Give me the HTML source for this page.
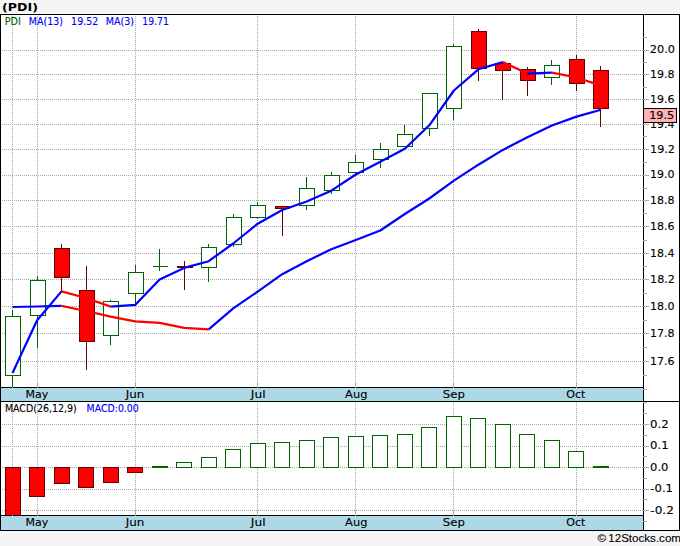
<!DOCTYPE html>
<html lang="en">
<head>
<meta charset="utf-8">
<title>(PDI) chart</title>
<style>
html,body{margin:0;padding:0;background:#f5f5f5;}
body{width:680px;height:546px;overflow:hidden;font-family:"Liberation Sans", "DejaVu Sans", sans-serif;}
svg{display:block;}
text{white-space:pre;}
</style>
</head>
<body>
<svg width="680" height="546" viewBox="0 0 680 546">
<rect x="0" y="0" width="680" height="546" fill="#f5f5f5"/>
<rect x="0" y="13" width="680" height="518" fill="#ffffff"/>
<rect x="1" y="388" width="642" height="13" fill="#add8e6"/>
<rect x="1" y="516" width="642" height="14" fill="#add8e6"/>
<g shape-rendering="crispEdges">
<line x1="2" y1="50.5" x2="643" y2="50.5" stroke="#a8a8a8" stroke-width="1" stroke-dasharray="1 1"/>
<line x1="2" y1="74.5" x2="643" y2="74.5" stroke="#a8a8a8" stroke-width="1" stroke-dasharray="1 1"/>
<line x1="2" y1="99.5" x2="643" y2="99.5" stroke="#a8a8a8" stroke-width="1" stroke-dasharray="1 1"/>
<line x1="2" y1="124.5" x2="643" y2="124.5" stroke="#a8a8a8" stroke-width="1" stroke-dasharray="1 1"/>
<line x1="2" y1="149.5" x2="643" y2="149.5" stroke="#a8a8a8" stroke-width="1" stroke-dasharray="1 1"/>
<line x1="2" y1="175.5" x2="643" y2="175.5" stroke="#a8a8a8" stroke-width="1" stroke-dasharray="1 1"/>
<line x1="2" y1="200.5" x2="643" y2="200.5" stroke="#a8a8a8" stroke-width="1" stroke-dasharray="1 1"/>
<line x1="2" y1="226.5" x2="643" y2="226.5" stroke="#a8a8a8" stroke-width="1" stroke-dasharray="1 1"/>
<line x1="2" y1="253.5" x2="643" y2="253.5" stroke="#a8a8a8" stroke-width="1" stroke-dasharray="1 1"/>
<line x1="2" y1="279.5" x2="643" y2="279.5" stroke="#a8a8a8" stroke-width="1" stroke-dasharray="1 1"/>
<line x1="2" y1="306.5" x2="643" y2="306.5" stroke="#a8a8a8" stroke-width="1" stroke-dasharray="1 1"/>
<line x1="2" y1="333.5" x2="643" y2="333.5" stroke="#a8a8a8" stroke-width="1" stroke-dasharray="1 1"/>
<line x1="2" y1="361.5" x2="643" y2="361.5" stroke="#a8a8a8" stroke-width="1" stroke-dasharray="1 1"/>
<line x1="2" y1="424.5" x2="643" y2="424.5" stroke="#a8a8a8" stroke-width="1" stroke-dasharray="1 1"/>
<line x1="2" y1="446.5" x2="643" y2="446.5" stroke="#a8a8a8" stroke-width="1" stroke-dasharray="1 1"/>
<line x1="2" y1="467.5" x2="643" y2="467.5" stroke="#a8a8a8" stroke-width="1" stroke-dasharray="1 1"/>
<line x1="2" y1="489.5" x2="643" y2="489.5" stroke="#a8a8a8" stroke-width="1" stroke-dasharray="1 1"/>
<line x1="2" y1="510.5" x2="643" y2="510.5" stroke="#a8a8a8" stroke-width="1" stroke-dasharray="1 1"/>
<line x1="12.5" y1="16" x2="12.5" y2="387" stroke="#a8a8a8" stroke-width="1" stroke-dasharray="1 1"/>
<line x1="12.5" y1="402" x2="12.5" y2="515" stroke="#a8a8a8" stroke-width="1" stroke-dasharray="1 1"/>
<line x1="37.5" y1="16" x2="37.5" y2="387" stroke="#a8a8a8" stroke-width="1" stroke-dasharray="1 1"/>
<line x1="37.5" y1="402" x2="37.5" y2="515" stroke="#a8a8a8" stroke-width="1" stroke-dasharray="1 1"/>
<line x1="135.5" y1="16" x2="135.5" y2="387" stroke="#a8a8a8" stroke-width="1" stroke-dasharray="1 1"/>
<line x1="135.5" y1="402" x2="135.5" y2="515" stroke="#a8a8a8" stroke-width="1" stroke-dasharray="1 1"/>
<line x1="257.5" y1="16" x2="257.5" y2="387" stroke="#a8a8a8" stroke-width="1" stroke-dasharray="1 1"/>
<line x1="257.5" y1="402" x2="257.5" y2="515" stroke="#a8a8a8" stroke-width="1" stroke-dasharray="1 1"/>
<line x1="355.5" y1="16" x2="355.5" y2="387" stroke="#a8a8a8" stroke-width="1" stroke-dasharray="1 1"/>
<line x1="355.5" y1="402" x2="355.5" y2="515" stroke="#a8a8a8" stroke-width="1" stroke-dasharray="1 1"/>
<line x1="453.5" y1="16" x2="453.5" y2="387" stroke="#a8a8a8" stroke-width="1" stroke-dasharray="1 1"/>
<line x1="453.5" y1="402" x2="453.5" y2="515" stroke="#a8a8a8" stroke-width="1" stroke-dasharray="1 1"/>
<line x1="576.5" y1="16" x2="576.5" y2="387" stroke="#a8a8a8" stroke-width="1" stroke-dasharray="1 1"/>
<line x1="576.5" y1="402" x2="576.5" y2="515" stroke="#a8a8a8" stroke-width="1" stroke-dasharray="1 1"/>
</g>
<g shape-rendering="crispEdges">
<rect x="12" y="310" width="1" height="77" fill="#006400"/>
<rect x="5" y="316" width="16" height="60" fill="#006400"/>
<rect x="6" y="317" width="14" height="58" fill="#ffffff"/>
<rect x="37" y="276" width="1" height="72" fill="#006400"/>
<rect x="30" y="280" width="16" height="36" fill="#006400"/>
<rect x="31" y="281" width="14" height="34" fill="#ffffff"/>
<rect x="61" y="244" width="1" height="48" fill="#660000"/>
<rect x="54" y="248" width="16" height="30" fill="#660000"/>
<rect x="55" y="249" width="14" height="28" fill="#ff0000"/>
<rect x="86" y="266" width="1" height="104" fill="#660000"/>
<rect x="79" y="290" width="16" height="52" fill="#660000"/>
<rect x="80" y="291" width="14" height="50" fill="#ff0000"/>
<rect x="110" y="300" width="1" height="45" fill="#006400"/>
<rect x="103" y="301" width="16" height="35" fill="#006400"/>
<rect x="104" y="302" width="14" height="33" fill="#ffffff"/>
<rect x="135" y="265" width="1" height="40" fill="#006400"/>
<rect x="128" y="272" width="16" height="22" fill="#006400"/>
<rect x="129" y="273" width="14" height="20" fill="#ffffff"/>
<rect x="159" y="249" width="1" height="22" fill="#006400"/>
<rect x="153" y="266" width="15" height="1" fill="#006400"/>
<rect x="184" y="261" width="1" height="29" fill="#660000"/>
<rect x="177" y="266" width="16" height="2" fill="#660000"/>
<rect x="208" y="244" width="1" height="38" fill="#006400"/>
<rect x="201" y="247" width="16" height="21" fill="#006400"/>
<rect x="202" y="248" width="14" height="19" fill="#ffffff"/>
<rect x="233" y="214" width="1" height="33" fill="#006400"/>
<rect x="226" y="217" width="16" height="28" fill="#006400"/>
<rect x="227" y="218" width="14" height="26" fill="#ffffff"/>
<rect x="257" y="202" width="1" height="17" fill="#006400"/>
<rect x="250" y="205" width="16" height="13" fill="#006400"/>
<rect x="251" y="206" width="14" height="11" fill="#ffffff"/>
<rect x="282" y="206" width="1" height="30" fill="#660000"/>
<rect x="275" y="206" width="15" height="3" fill="#660000"/>
<rect x="276" y="207" width="13" height="1" fill="#ff0000"/>
<rect x="306" y="177" width="1" height="33" fill="#006400"/>
<rect x="299" y="188" width="16" height="18" fill="#006400"/>
<rect x="300" y="189" width="14" height="16" fill="#ffffff"/>
<rect x="331" y="172" width="1" height="22" fill="#006400"/>
<rect x="324" y="175" width="16" height="16" fill="#006400"/>
<rect x="325" y="176" width="14" height="14" fill="#ffffff"/>
<rect x="355" y="155" width="1" height="19" fill="#006400"/>
<rect x="348" y="162" width="16" height="11" fill="#006400"/>
<rect x="349" y="163" width="14" height="9" fill="#ffffff"/>
<rect x="380" y="143" width="1" height="25" fill="#006400"/>
<rect x="373" y="149" width="16" height="11" fill="#006400"/>
<rect x="374" y="150" width="14" height="9" fill="#ffffff"/>
<rect x="404" y="125" width="1" height="22" fill="#006400"/>
<rect x="397" y="134" width="16" height="13" fill="#006400"/>
<rect x="398" y="135" width="14" height="11" fill="#ffffff"/>
<rect x="429" y="93" width="1" height="43" fill="#006400"/>
<rect x="422" y="93" width="16" height="36" fill="#006400"/>
<rect x="423" y="94" width="14" height="34" fill="#ffffff"/>
<rect x="453" y="44" width="1" height="76" fill="#006400"/>
<rect x="446" y="46" width="16" height="63" fill="#006400"/>
<rect x="447" y="47" width="14" height="61" fill="#ffffff"/>
<rect x="478" y="29" width="1" height="52" fill="#660000"/>
<rect x="471" y="31" width="16" height="38" fill="#660000"/>
<rect x="472" y="32" width="14" height="36" fill="#ff0000"/>
<rect x="502" y="62" width="1" height="38" fill="#660000"/>
<rect x="495" y="63" width="16" height="8" fill="#660000"/>
<rect x="496" y="64" width="14" height="6" fill="#ff0000"/>
<rect x="527" y="67" width="1" height="29" fill="#660000"/>
<rect x="520" y="69" width="16" height="12" fill="#660000"/>
<rect x="521" y="70" width="14" height="10" fill="#ff0000"/>
<rect x="551" y="60" width="1" height="25" fill="#006400"/>
<rect x="544" y="65" width="16" height="13" fill="#006400"/>
<rect x="545" y="66" width="14" height="11" fill="#ffffff"/>
<rect x="576" y="55" width="1" height="36" fill="#660000"/>
<rect x="569" y="59" width="16" height="25" fill="#660000"/>
<rect x="570" y="60" width="14" height="23" fill="#ff0000"/>
<rect x="600" y="66" width="1" height="61" fill="#660000"/>
<rect x="593" y="70" width="16" height="39" fill="#660000"/>
<rect x="594" y="71" width="14" height="37" fill="#ff0000"/>
</g>
<g shape-rendering="crispEdges">
<rect x="5" y="467" width="16" height="49" fill="#660000"/>
<rect x="6" y="468" width="14" height="47" fill="#ff0000"/>
<rect x="29" y="467" width="16" height="30" fill="#660000"/>
<rect x="30" y="468" width="14" height="28" fill="#ff0000"/>
<rect x="54" y="467" width="16" height="17" fill="#660000"/>
<rect x="55" y="468" width="14" height="15" fill="#ff0000"/>
<rect x="78" y="467" width="16" height="21" fill="#660000"/>
<rect x="79" y="468" width="14" height="19" fill="#ff0000"/>
<rect x="103" y="467" width="16" height="16" fill="#660000"/>
<rect x="104" y="468" width="14" height="14" fill="#ff0000"/>
<rect x="127" y="467" width="16" height="6" fill="#660000"/>
<rect x="128" y="468" width="14" height="4" fill="#ff0000"/>
<rect x="152" y="466" width="16" height="2" fill="#006400"/>
<rect x="176" y="462" width="16" height="6" fill="#006400"/>
<rect x="177" y="463" width="14" height="4" fill="#ffffff"/>
<rect x="201" y="457" width="16" height="11" fill="#006400"/>
<rect x="202" y="458" width="14" height="9" fill="#ffffff"/>
<rect x="225" y="449" width="16" height="19" fill="#006400"/>
<rect x="226" y="450" width="14" height="17" fill="#ffffff"/>
<rect x="250" y="443" width="16" height="25" fill="#006400"/>
<rect x="251" y="444" width="14" height="23" fill="#ffffff"/>
<rect x="274" y="442" width="16" height="26" fill="#006400"/>
<rect x="275" y="443" width="14" height="24" fill="#ffffff"/>
<rect x="299" y="440" width="16" height="28" fill="#006400"/>
<rect x="300" y="441" width="14" height="26" fill="#ffffff"/>
<rect x="323" y="437" width="16" height="31" fill="#006400"/>
<rect x="324" y="438" width="14" height="29" fill="#ffffff"/>
<rect x="348" y="436" width="16" height="32" fill="#006400"/>
<rect x="349" y="437" width="14" height="30" fill="#ffffff"/>
<rect x="372" y="435" width="16" height="33" fill="#006400"/>
<rect x="373" y="436" width="14" height="31" fill="#ffffff"/>
<rect x="397" y="434" width="16" height="34" fill="#006400"/>
<rect x="398" y="435" width="14" height="32" fill="#ffffff"/>
<rect x="421" y="427" width="16" height="41" fill="#006400"/>
<rect x="422" y="428" width="14" height="39" fill="#ffffff"/>
<rect x="446" y="416" width="16" height="52" fill="#006400"/>
<rect x="447" y="417" width="14" height="50" fill="#ffffff"/>
<rect x="470" y="418" width="16" height="50" fill="#006400"/>
<rect x="471" y="419" width="14" height="48" fill="#ffffff"/>
<rect x="495" y="424" width="16" height="44" fill="#006400"/>
<rect x="496" y="425" width="14" height="42" fill="#ffffff"/>
<rect x="519" y="434" width="16" height="34" fill="#006400"/>
<rect x="520" y="435" width="14" height="32" fill="#ffffff"/>
<rect x="544" y="440" width="16" height="28" fill="#006400"/>
<rect x="545" y="441" width="14" height="26" fill="#ffffff"/>
<rect x="568" y="451" width="16" height="17" fill="#006400"/>
<rect x="569" y="452" width="14" height="15" fill="#ffffff"/>
<rect x="593" y="466" width="16" height="2" fill="#006400"/>
</g>
<polyline points="12.5,307.0 37.0,306.5 61.5,305.9" fill="none" stroke="#0000ff" stroke-width="2.2" stroke-linejoin="round" stroke-linecap="butt"/>
<polyline points="61.5,305.9 86.1,311.0 110.6,316.6 135.1,321.3 159.6,322.9 184.1,327.9 208.7,329.3" fill="none" stroke="#ff0000" stroke-width="2.2" stroke-linejoin="round" stroke-linecap="butt"/>
<polyline points="208.7,329.3 233.2,308.4 257.7,291.6 282.2,274.2 306.7,261.2 331.3,249.3 355.8,240.0 380.3,230.5 404.8,214.0 429.3,198.5 453.9,180.6 478.4,164.7 502.9,149.9 527.4,137.3 551.9,125.5 576.5,116.6 601.0,109.8" fill="none" stroke="#0000ff" stroke-width="2.2" stroke-linejoin="round" stroke-linecap="butt"/>
<polyline points="12.5,373.0 37.0,320.5 61.5,291.4" fill="none" stroke="#0000ff" stroke-width="2.2" stroke-linejoin="round" stroke-linecap="butt"/>
<polyline points="61.5,291.4 86.1,298.0 110.6,306.6" fill="none" stroke="#ff0000" stroke-width="2.2" stroke-linejoin="round" stroke-linecap="butt"/>
<polyline points="110.6,306.6 135.1,304.9 159.6,279.4 184.1,267.9 208.7,261.2 233.2,243.5 257.7,223.7 282.2,210.0 306.7,201.5 331.3,190.7 355.8,174.5 380.3,161.8 404.8,148.8 429.3,125.3 453.9,90.5 478.4,69.3 502.9,62.1" fill="none" stroke="#0000ff" stroke-width="2.2" stroke-linejoin="round" stroke-linecap="butt"/>
<polyline points="502.9,62.1 527.4,73.6" fill="none" stroke="#ff0000" stroke-width="2.2" stroke-linejoin="round" stroke-linecap="butt"/>
<polyline points="527.4,73.6 551.9,72.6" fill="none" stroke="#0000ff" stroke-width="2.2" stroke-linejoin="round" stroke-linecap="butt"/>
<polyline points="551.9,72.6 576.5,77.5 601.0,85.6" fill="none" stroke="#ff0000" stroke-width="2.2" stroke-linejoin="round" stroke-linecap="butt"/>
<g shape-rendering="crispEdges">
<rect x="0" y="14" width="680" height="1" fill="#000"/>
<rect x="0" y="14" width="1" height="517" fill="#000"/>
<rect x="679" y="14" width="1" height="517" fill="#000"/>
<rect x="643" y="14" width="1" height="517" fill="#000"/>
<rect x="0" y="387" width="644" height="1" fill="#000"/>
<rect x="0" y="401" width="680" height="1" fill="#000"/>
<rect x="0" y="515" width="644" height="1" fill="#000"/>
<rect x="0" y="530" width="680" height="1" fill="#000"/>
<rect x="643" y="50" width="6" height="1" fill="#a8a8a8"/>
<rect x="643" y="74" width="6" height="1" fill="#a8a8a8"/>
<rect x="643" y="99" width="6" height="1" fill="#a8a8a8"/>
<rect x="643" y="124" width="6" height="1" fill="#a8a8a8"/>
<rect x="643" y="149" width="6" height="1" fill="#a8a8a8"/>
<rect x="643" y="175" width="6" height="1" fill="#a8a8a8"/>
<rect x="643" y="200" width="6" height="1" fill="#a8a8a8"/>
<rect x="643" y="226" width="6" height="1" fill="#a8a8a8"/>
<rect x="643" y="253" width="6" height="1" fill="#a8a8a8"/>
<rect x="643" y="279" width="6" height="1" fill="#a8a8a8"/>
<rect x="643" y="306" width="6" height="1" fill="#a8a8a8"/>
<rect x="643" y="333" width="6" height="1" fill="#a8a8a8"/>
<rect x="643" y="361" width="6" height="1" fill="#a8a8a8"/>
<rect x="643" y="37" width="4" height="1" fill="#a8a8a8"/>
<rect x="643" y="62" width="4" height="1" fill="#a8a8a8"/>
<rect x="643" y="87" width="4" height="1" fill="#a8a8a8"/>
<rect x="643" y="112" width="4" height="1" fill="#a8a8a8"/>
<rect x="643" y="136" width="4" height="1" fill="#a8a8a8"/>
<rect x="643" y="162" width="4" height="1" fill="#a8a8a8"/>
<rect x="643" y="188" width="4" height="1" fill="#a8a8a8"/>
<rect x="643" y="213" width="4" height="1" fill="#a8a8a8"/>
<rect x="643" y="240" width="4" height="1" fill="#a8a8a8"/>
<rect x="643" y="266" width="4" height="1" fill="#a8a8a8"/>
<rect x="643" y="293" width="4" height="1" fill="#a8a8a8"/>
<rect x="643" y="320" width="4" height="1" fill="#a8a8a8"/>
<rect x="643" y="347" width="4" height="1" fill="#a8a8a8"/>
<rect x="643" y="375" width="4" height="1" fill="#a8a8a8"/>
<rect x="643" y="389" width="4" height="1" fill="#a8a8a8"/>
<rect x="643" y="424" width="6" height="1" fill="#a8a8a8"/>
<rect x="643" y="446" width="6" height="1" fill="#a8a8a8"/>
<rect x="643" y="467" width="6" height="1" fill="#a8a8a8"/>
<rect x="643" y="489" width="6" height="1" fill="#a8a8a8"/>
<rect x="643" y="510" width="6" height="1" fill="#a8a8a8"/>
<rect x="643" y="402" width="4" height="1" fill="#a8a8a8"/>
<rect x="643" y="413" width="4" height="1" fill="#a8a8a8"/>
<rect x="643" y="435" width="4" height="1" fill="#a8a8a8"/>
<rect x="643" y="456" width="4" height="1" fill="#a8a8a8"/>
<rect x="643" y="478" width="4" height="1" fill="#a8a8a8"/>
<rect x="643" y="499" width="4" height="1" fill="#a8a8a8"/>
<rect x="643" y="521" width="4" height="1" fill="#a8a8a8"/>
<rect x="37" y="382" width="1" height="6" fill="#a8a8a8"/>
<rect x="37" y="510" width="1" height="6" fill="#a8a8a8"/>
<rect x="135" y="382" width="1" height="6" fill="#a8a8a8"/>
<rect x="135" y="510" width="1" height="6" fill="#a8a8a8"/>
<rect x="257" y="382" width="1" height="6" fill="#a8a8a8"/>
<rect x="257" y="510" width="1" height="6" fill="#a8a8a8"/>
<rect x="355" y="382" width="1" height="6" fill="#a8a8a8"/>
<rect x="355" y="510" width="1" height="6" fill="#a8a8a8"/>
<rect x="453" y="382" width="1" height="6" fill="#a8a8a8"/>
<rect x="453" y="510" width="1" height="6" fill="#a8a8a8"/>
<rect x="576" y="382" width="1" height="6" fill="#a8a8a8"/>
<rect x="576" y="510" width="1" height="6" fill="#a8a8a8"/>
<rect x="12" y="387" width="1" height="1" fill="#a8a8a8"/>
<rect x="12" y="515" width="1" height="1" fill="#a8a8a8"/>
</g>
<text x="2.06" y="11" fill="#000" font-size="11" font-weight="bold" font-family='"DejaVu Sans", "Liberation Sans", sans-serif' stroke="#000" stroke-width="0.0"  textLength="35.85" lengthAdjust="spacingAndGlyphs">(PDI)</text>
<text x="4.80" y="25" fill="#006400" font-size="9.6" font-weight="normal" font-family='"DejaVu Sans", "Liberation Sans", sans-serif' stroke="#006400" stroke-width="0.12"  textLength="15.99" lengthAdjust="spacingAndGlyphs">PDI</text>
<text x="28.81" y="25" fill="#0000ff" font-size="9.6" font-weight="normal" font-family='"DejaVu Sans", "Liberation Sans", sans-serif' stroke="#0000ff" stroke-width="0.12"  textLength="34.18" lengthAdjust="spacingAndGlyphs">MA(13)</text>
<text x="71.11" y="25" fill="#0000ff" font-size="9.6" font-weight="normal" font-family='"DejaVu Sans", "Liberation Sans", sans-serif' stroke="#0000ff" stroke-width="0.12"  textLength="27.15" lengthAdjust="spacingAndGlyphs">19.52</text>
<text x="105.80" y="25" fill="#0000ff" font-size="9.6" font-weight="normal" font-family='"DejaVu Sans", "Liberation Sans", sans-serif' stroke="#0000ff" stroke-width="0.12"  textLength="28.30" lengthAdjust="spacingAndGlyphs">MA(3)</text>
<text x="142.23" y="25" fill="#0000ff" font-size="9.6" font-weight="normal" font-family='"DejaVu Sans", "Liberation Sans", sans-serif' stroke="#0000ff" stroke-width="0.12"  textLength="26.69" lengthAdjust="spacingAndGlyphs">19.71</text>
<text x="4.91" y="412" fill="#000" font-size="9.6" font-weight="normal" font-family='"DejaVu Sans", "Liberation Sans", sans-serif' stroke="#000" stroke-width="0.12"  textLength="71.85" lengthAdjust="spacingAndGlyphs">MACD(26,12,9)</text>
<text x="86.62" y="412" fill="#0000ff" font-size="9.6" font-weight="normal" font-family='"DejaVu Sans", "Liberation Sans", sans-serif' stroke="#0000ff" stroke-width="0.12"  textLength="52.17" lengthAdjust="spacingAndGlyphs">MACD:0.00</text>
<text x="649.83" y="53" fill="#000" font-size="11" font-weight="normal" font-family='"DejaVu Sans", "Liberation Sans", sans-serif' stroke="#000" stroke-width="0.12"  textLength="25.14" lengthAdjust="spacingAndGlyphs">20.0</text>
<text x="650.05" y="78" fill="#000" font-size="11" font-weight="normal" font-family='"DejaVu Sans", "Liberation Sans", sans-serif' stroke="#000" stroke-width="0.12"  textLength="24.50" lengthAdjust="spacingAndGlyphs">19.8</text>
<text x="650.05" y="103" fill="#000" font-size="11" font-weight="normal" font-family='"DejaVu Sans", "Liberation Sans", sans-serif' stroke="#000" stroke-width="0.12"  textLength="24.50" lengthAdjust="spacingAndGlyphs">19.6</text>
<text x="650.06" y="128" fill="#000" font-size="11" font-weight="normal" font-family='"DejaVu Sans", "Liberation Sans", sans-serif' stroke="#000" stroke-width="0.12"  textLength="24.36" lengthAdjust="spacingAndGlyphs">19.4</text>
<text x="650.03" y="153" fill="#000" font-size="11" font-weight="normal" font-family='"DejaVu Sans", "Liberation Sans", sans-serif' stroke="#000" stroke-width="0.12"  textLength="24.92" lengthAdjust="spacingAndGlyphs">19.2</text>
<text x="650.05" y="178" fill="#000" font-size="11" font-weight="normal" font-family='"DejaVu Sans", "Liberation Sans", sans-serif' stroke="#000" stroke-width="0.12"  textLength="24.50" lengthAdjust="spacingAndGlyphs">19.0</text>
<text x="650.05" y="204" fill="#000" font-size="11" font-weight="normal" font-family='"DejaVu Sans", "Liberation Sans", sans-serif' stroke="#000" stroke-width="0.12"  textLength="24.50" lengthAdjust="spacingAndGlyphs">18.8</text>
<text x="650.05" y="230" fill="#000" font-size="11" font-weight="normal" font-family='"DejaVu Sans", "Liberation Sans", sans-serif' stroke="#000" stroke-width="0.12"  textLength="24.50" lengthAdjust="spacingAndGlyphs">18.6</text>
<text x="650.06" y="257" fill="#000" font-size="11" font-weight="normal" font-family='"DejaVu Sans", "Liberation Sans", sans-serif' stroke="#000" stroke-width="0.12"  textLength="24.36" lengthAdjust="spacingAndGlyphs">18.4</text>
<text x="650.03" y="283" fill="#000" font-size="11" font-weight="normal" font-family='"DejaVu Sans", "Liberation Sans", sans-serif' stroke="#000" stroke-width="0.12"  textLength="24.92" lengthAdjust="spacingAndGlyphs">18.2</text>
<text x="650.05" y="310" fill="#000" font-size="11" font-weight="normal" font-family='"DejaVu Sans", "Liberation Sans", sans-serif' stroke="#000" stroke-width="0.12"  textLength="24.50" lengthAdjust="spacingAndGlyphs">18.0</text>
<text x="650.05" y="337" fill="#000" font-size="11" font-weight="normal" font-family='"DejaVu Sans", "Liberation Sans", sans-serif' stroke="#000" stroke-width="0.12"  textLength="24.50" lengthAdjust="spacingAndGlyphs">17.8</text>
<text x="650.05" y="365" fill="#000" font-size="11" font-weight="normal" font-family='"DejaVu Sans", "Liberation Sans", sans-serif' stroke="#000" stroke-width="0.12"  textLength="24.50" lengthAdjust="spacingAndGlyphs">17.6</text>
<text x="650.10" y="428" fill="#000" font-size="11" font-weight="normal" font-family='"DejaVu Sans", "Liberation Sans", sans-serif' stroke="#000" stroke-width="0.12"  textLength="18.70" lengthAdjust="spacingAndGlyphs">0.2</text>
<text x="650.10" y="449" fill="#000" font-size="11" font-weight="normal" font-family='"DejaVu Sans", "Liberation Sans", sans-serif' stroke="#000" stroke-width="0.12"  textLength="18.56" lengthAdjust="spacingAndGlyphs">0.1</text>
<text x="650.12" y="471" fill="#000" font-size="11" font-weight="normal" font-family='"DejaVu Sans", "Liberation Sans", sans-serif' stroke="#000" stroke-width="0.12"  textLength="18.27" lengthAdjust="spacingAndGlyphs">0.0</text>
<text x="650.37" y="492" fill="#000" font-size="11" font-weight="normal" font-family='"DejaVu Sans", "Liberation Sans", sans-serif' stroke="#000" stroke-width="0.12"  textLength="22.65" lengthAdjust="spacingAndGlyphs">-0.1</text>
<text x="650.35" y="514" fill="#000" font-size="11" font-weight="normal" font-family='"DejaVu Sans", "Liberation Sans", sans-serif' stroke="#000" stroke-width="0.12"  textLength="23.55" lengthAdjust="spacingAndGlyphs">-0.2</text>
<text x="25.48" y="398" fill="#000" font-size="11" font-weight="normal" font-family='"DejaVu Sans", "Liberation Sans", sans-serif' stroke="#000" stroke-width="0.12"  textLength="22.70" lengthAdjust="spacingAndGlyphs">May</text>
<text x="25.48" y="526" fill="#000" font-size="11" font-weight="normal" font-family='"DejaVu Sans", "Liberation Sans", sans-serif' stroke="#000" stroke-width="0.12"  textLength="22.70" lengthAdjust="spacingAndGlyphs">May</text>
<text x="125.68" y="398" fill="#000" font-size="11" font-weight="normal" font-family='"DejaVu Sans", "Liberation Sans", sans-serif' stroke="#000" stroke-width="0.12"  textLength="18.64" lengthAdjust="spacingAndGlyphs">Jun</text>
<text x="125.68" y="526" fill="#000" font-size="11" font-weight="normal" font-family='"DejaVu Sans", "Liberation Sans", sans-serif' stroke="#000" stroke-width="0.12"  textLength="18.64" lengthAdjust="spacingAndGlyphs">Jun</text>
<text x="250.79" y="398" fill="#000" font-size="11" font-weight="normal" font-family='"DejaVu Sans", "Liberation Sans", sans-serif' stroke="#000" stroke-width="0.12"  textLength="14.75" lengthAdjust="spacingAndGlyphs">Jul</text>
<text x="250.79" y="526" fill="#000" font-size="11" font-weight="normal" font-family='"DejaVu Sans", "Liberation Sans", sans-serif' stroke="#000" stroke-width="0.12"  textLength="14.75" lengthAdjust="spacingAndGlyphs">Jul</text>
<text x="345.07" y="398" fill="#000" font-size="11" font-weight="normal" font-family='"DejaVu Sans", "Liberation Sans", sans-serif' stroke="#000" stroke-width="0.12"  textLength="22.35" lengthAdjust="spacingAndGlyphs">Aug</text>
<text x="345.07" y="526" fill="#000" font-size="11" font-weight="normal" font-family='"DejaVu Sans", "Liberation Sans", sans-serif' stroke="#000" stroke-width="0.12"  textLength="22.35" lengthAdjust="spacingAndGlyphs">Aug</text>
<text x="442.80" y="398" fill="#000" font-size="11" font-weight="normal" font-family='"DejaVu Sans", "Liberation Sans", sans-serif' stroke="#000" stroke-width="0.12"  textLength="22.05" lengthAdjust="spacingAndGlyphs">Sep</text>
<text x="442.80" y="526" fill="#000" font-size="11" font-weight="normal" font-family='"DejaVu Sans", "Liberation Sans", sans-serif' stroke="#000" stroke-width="0.12"  textLength="22.05" lengthAdjust="spacingAndGlyphs">Sep</text>
<text x="566.28" y="398" fill="#000" font-size="11" font-weight="normal" font-family='"DejaVu Sans", "Liberation Sans", sans-serif' stroke="#000" stroke-width="0.12"  textLength="19.01" lengthAdjust="spacingAndGlyphs">Oct</text>
<text x="566.28" y="526" fill="#000" font-size="11" font-weight="normal" font-family='"DejaVu Sans", "Liberation Sans", sans-serif' stroke="#000" stroke-width="0.12"  textLength="19.01" lengthAdjust="spacingAndGlyphs">Oct</text>
<text x="597.57" y="542" fill="#000" font-size="11" font-weight="normal" font-family='"Liberation Sans", sans-serif' stroke="#000" stroke-width="0.12" word-spacing="-1" textLength="83.42" lengthAdjust="spacingAndGlyphs">© 12Stocks.com</text>
<g shape-rendering="crispEdges">
<rect x="643" y="108" width="34" height="15" fill="#000"/>
<rect x="644" y="109" width="32" height="13" fill="#ffb0b0"/>
</g>
<text x="649.23" y="119" fill="#000" font-size="11" font-weight="normal" font-family='"DejaVu Sans", "Liberation Sans", sans-serif' stroke="#000" stroke-width="0.12"  textLength="24.89" lengthAdjust="spacingAndGlyphs">19.5</text>
</svg>
</body>
</html>
